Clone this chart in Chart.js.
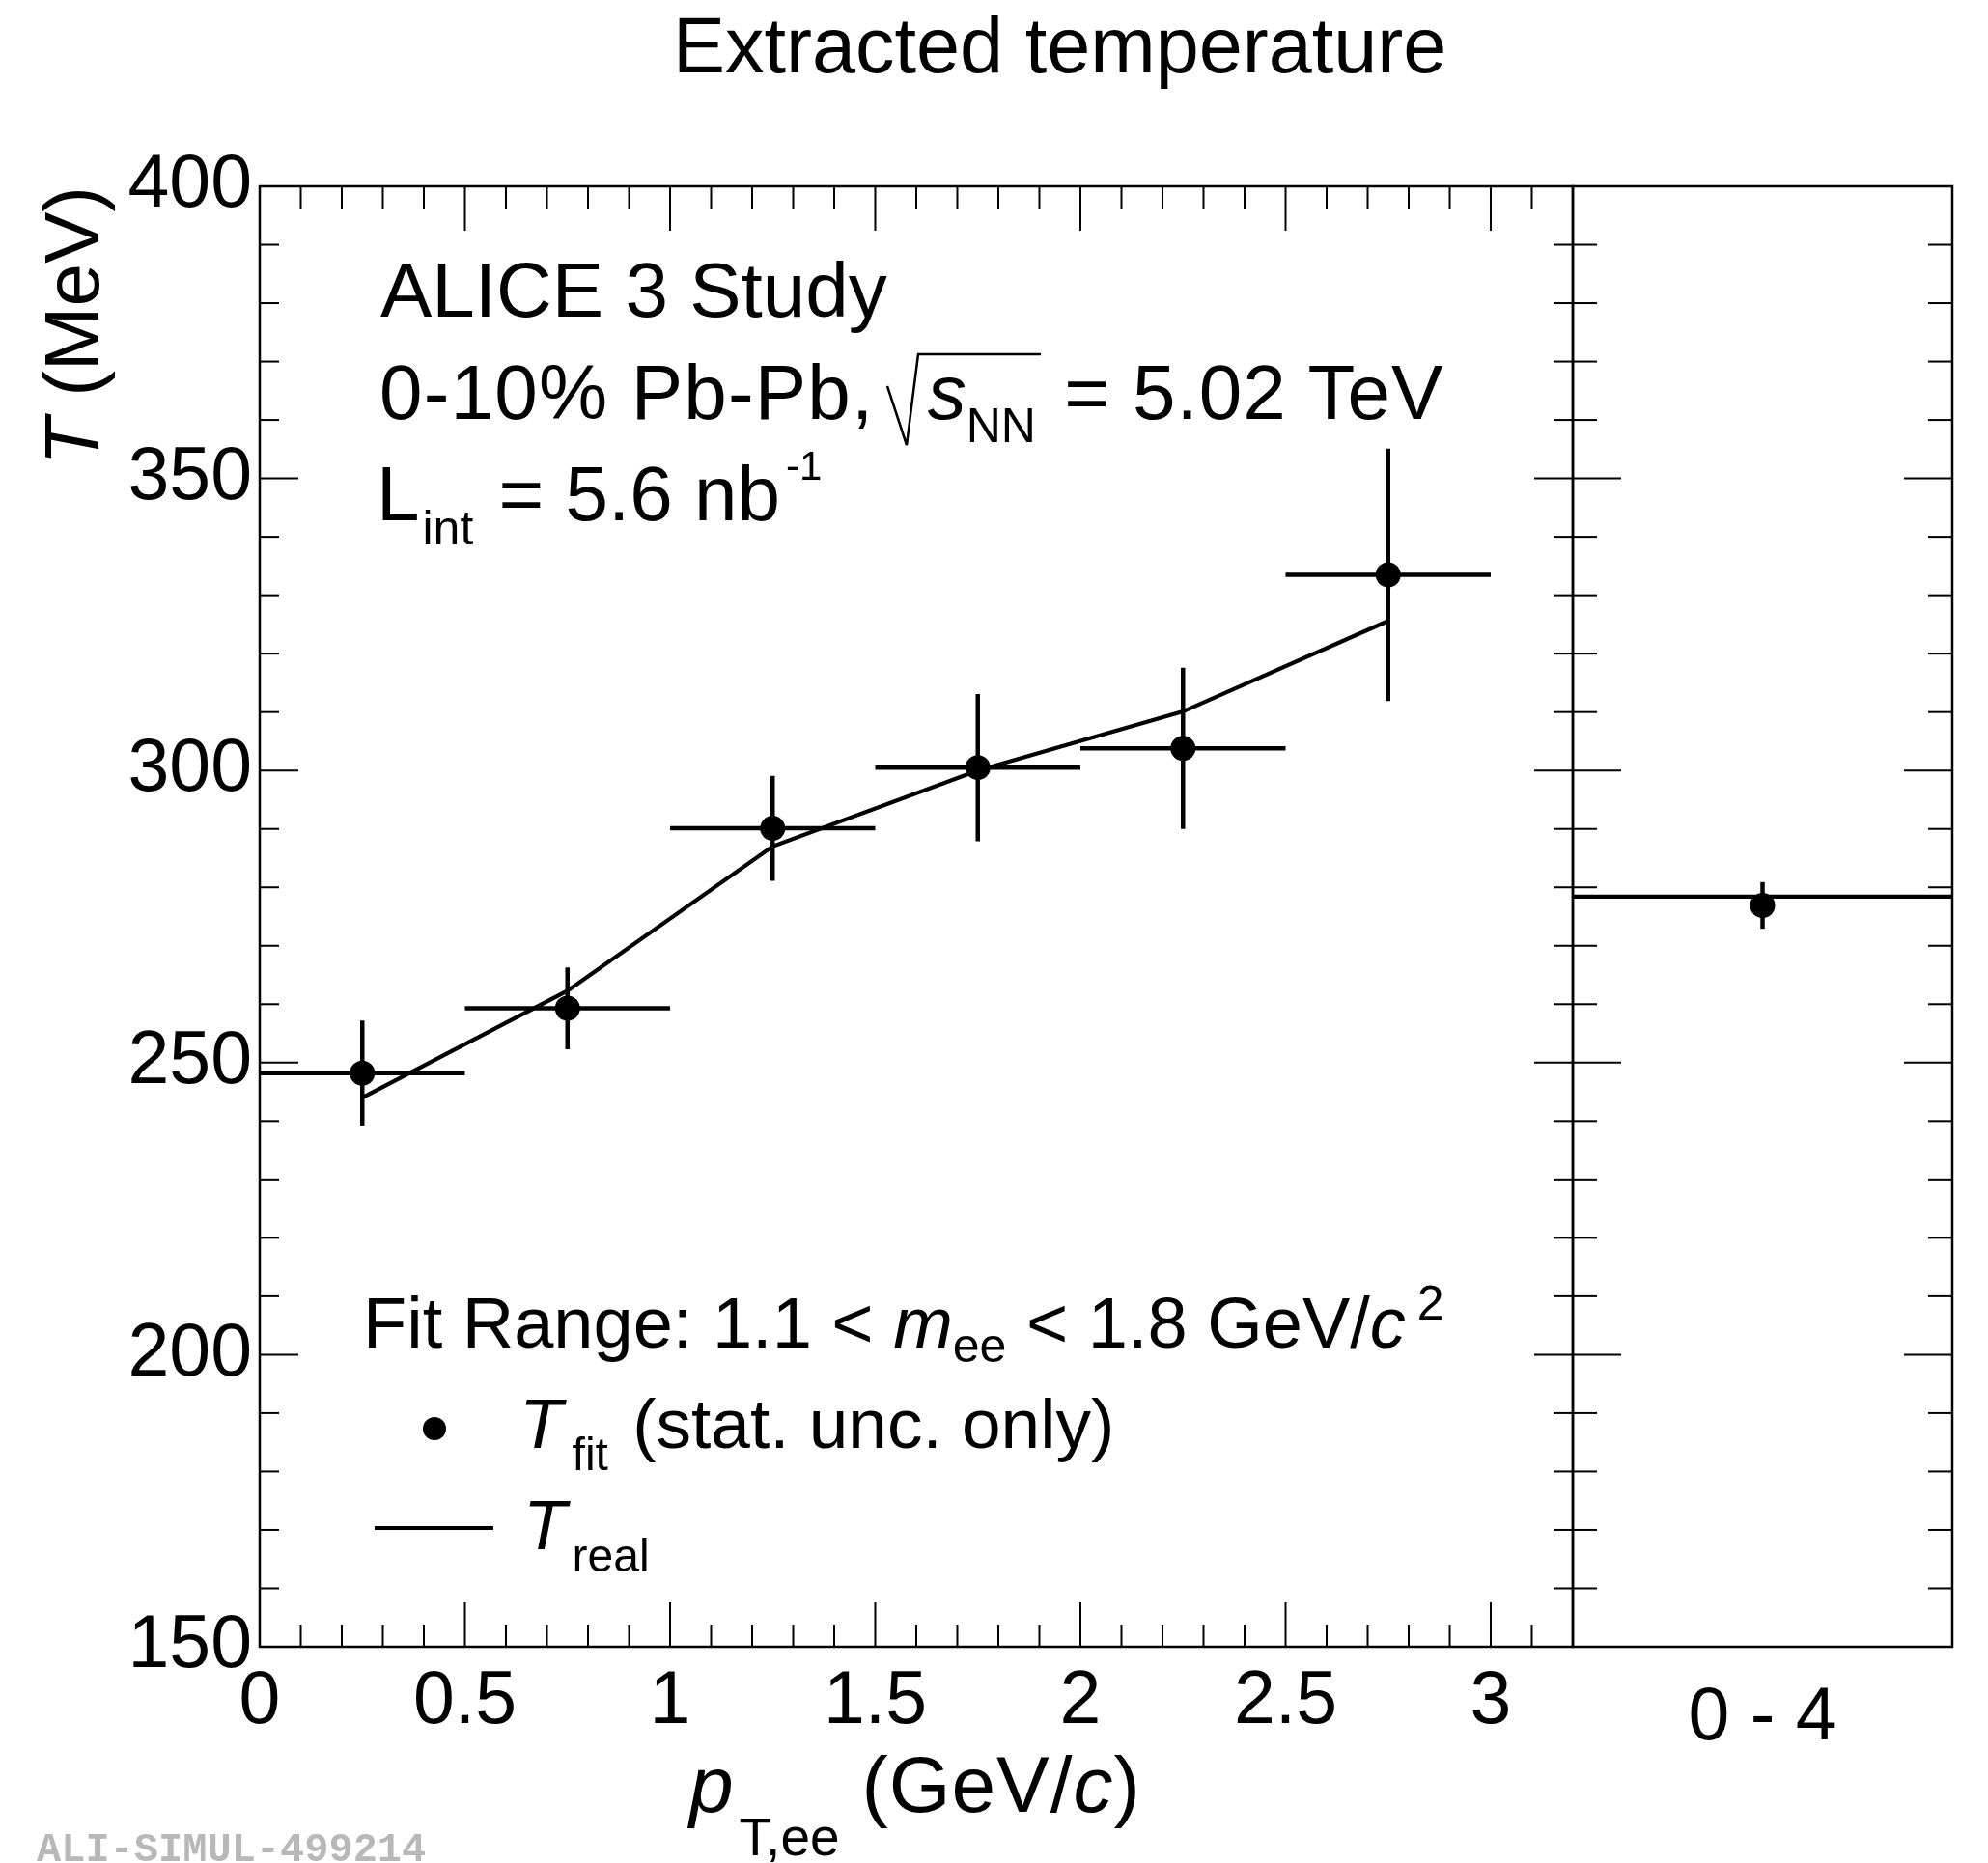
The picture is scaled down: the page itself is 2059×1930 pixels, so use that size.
<!DOCTYPE html>
<html>
<head>
<meta charset="utf-8">
<title>Extracted temperature</title>
<script src="https://cdn.jsdelivr.net/npm/chart.js@4.4.1/dist/chart.umd.min.js"></script>
<style>
  html, body { margin:0; padding:0; background:#fff; }
  #stage { position:relative; width:2059px; height:1930px; overflow:hidden; background:#fff;
           font-family:"Liberation Sans", Arial, Helvetica, sans-serif; color:#000; }
  #stage canvas { position:absolute; left:0; top:0; }
  .txt { position:absolute; white-space:nowrap; line-height:1; }
  .f80 { font-size:80px; }
  .f74 { font-size:74px; }
  .it { font-style:italic; }
  .ss { position:relative; font-size:50px; }
  .ss48 { position:relative; font-size:48px; }
  .mark { position:absolute; background:#000; }
  .wm { position:absolute; white-space:nowrap; line-height:1; font-family:"Liberation Mono","Courier New",monospace;
        font-weight:bold; font-size:42px; color:#b8b8b8; }
</style>
</head>
<body>
<div id="stage">
  <canvas id="mainChart" width="2059" height="1930"></canvas>
  <canvas id="intChart" width="2059" height="1930"></canvas>

  <div class="txt" style="font-size:81px; left:697px; top:7px;">Extracted temperature</div>

  <div class="txt f80" style="left:35px; top:593px; width:400px; text-align:right; transform-origin:0 0; transform:rotate(-90deg);"><span class="it">T</span> (MeV)</div>

  <div class="txt" style="font-size:82px; left:714px; top:1808px;"><span class="it">p</span><span class="ss" style="font-size:55px; top:45px; margin-left:6px;">T,ee</span> <span style="letter-spacing:1px;">(GeV/<span class="it">c</span>)</span></div>

  <div class="txt f80" style="left:394px; top:261px;">ALICE 3 Study</div>
  <div class="txt f80" style="left:393px; top:367px;"><span style="letter-spacing:1.2px;">0-10% Pb-Pb,</span> <span style="display:inline-block; width:33px;"></span><span class="it">s</span><span class="ss" style="top:24px;">NN</span><span style="letter-spacing:1px; margin-left:6px;"> = 5.02 TeV</span></div>
  <svg style="position:absolute; left:0; top:0;" width="2059" height="600">
    <polyline points="919,400 939,461 951,367 1078,367" fill="none" stroke="#000" stroke-width="2.5" stroke-linejoin="miter"/>
  </svg>
  <div class="txt f80" style="left:390px; top:472px;">L<span class="ss" style="top:25px; margin-left:3px;">int</span><span style="margin-left:4px;"> = 5.6 nb</span><span class="ss" style="font-size:42px; top:-42px; margin-left:6px;">-1</span></div>

  <div class="txt f74" style="left:376px; top:1334px;">Fit Range: 1.1 &lt; <span class="it">m</span><span class="ss" style="top:15px;">ee</span> &lt; 1.8 GeV/<span class="it">c</span><span class="ss" style="top:-29px; margin-left:12px;">2</span></div>

  <div class="mark" style="left:438px; top:1468px; width:24px; height:24px; border-radius:50%;"></div>
  <div class="txt" style="font-size:73px; left:538px; top:1438px;"><span class="it">T</span><span class="ss48" style="top:23px; margin-left:10px;">fit</span><span style="margin-left:5px;"> (stat. unc. only)</span></div>

  <div class="mark" style="left:388px; top:1581px; width:123px; height:4px;"></div>
  <div class="txt" style="font-size:73px; left:542px; top:1543px;"><span class="it">T</span><span class="ss48" style="top:23px; margin-left:6px;">real</span></div>

  <div class="wm" style="left:38px; top:1896px;">ALI-SIMUL-499214</div>
</div>

<script>
// ---------------- data ----------------
const binEdges   = [0, 0.5, 1.0, 1.5, 2.0, 2.5, 3.0];          // p_T,ee bins (GeV/c)
const tFit       = [248.2, 259.3, 290.1, 300.5, 303.8, 333.5];  // T_fit (MeV)
const tFitErr    = [9.0, 7.0, 9.0, 12.6, 13.8, 21.6];           // stat. unc. (MeV)
const tReal      = [244.0, 262.3, 287.0, 300.0, 310.1, 325.6];  // T_real (MeV)

const intRange   = [0, 4];          // integrated p_T,ee range (GeV/c)
const intLabel   = ['0 - 4'];
const intTFit    = [276.9];
const intTFitErr = [4.0];
const intTReal   = [278.4];

const xTickLabels = [0, 0.5, 1, 1.5, 2, 2.5, 3];
const yTickLabels = [150, 200, 250, 300, 350, 400];

// ---------------- derived ----------------
const binCenters = tFit.map((_, i) => (binEdges[i] + binEdges[i + 1]) / 2);

function errorSegments(xc, lo, hi, ys, errs) {
  const pts = [];
  xc.forEach((x, i) => {
    pts.push({ x: x, y: ys[i] - errs[i] }, { x: x, y: ys[i] + errs[i] }, { x: x, y: null });
    if (lo && hi) pts.push({ x: lo[i], y: ys[i] }, { x: hi[i], y: ys[i] }, { x: x, y: null });
  });
  return pts;
}

const FONT = "'Liberation Sans', Arial, Helvetica, sans-serif";

const frameTicks = {
  id: 'frameTicks',
  afterDatasetsDraw(chart, args, o) {
    const { ctx, chartArea: a } = chart;
    const xs = chart.scales.x, ys = chart.scales.y;
    ctx.save();
    ctx.strokeStyle = '#000';
    ctx.lineCap = 'butt';
    ctx.lineWidth = o.tickWidth;
    const draw = (scale, minor, perMajor, sides) => {
      const n = Math.round((scale.max - scale.min) / minor);
      for (let i = 1; i < n; i++) {
        const p = scale.getPixelForValue(scale.min + i * minor);
        const major = i % perMajor === 0;
        sides.forEach(s => {
          const len = major ? s.len[0] : s.len[1];
          ctx.beginPath();
          if (s.side === 'left')   { ctx.moveTo(a.left, p);   ctx.lineTo(a.left + len, p); }
          if (s.side === 'right')  { ctx.moveTo(a.right, p);  ctx.lineTo(a.right - len, p); }
          if (s.side === 'bottom') { ctx.moveTo(p, a.bottom); ctx.lineTo(p, a.bottom - len); }
          if (s.side === 'top')    { ctx.moveTo(p, a.top);    ctx.lineTo(p, a.top + len); }
          ctx.stroke();
        });
      }
    };
    if (o.x) draw(xs, o.x.minor, o.x.perMajor, o.x.sides);
    if (o.y) draw(ys, o.y.minor, o.y.perMajor, o.y.sides);
    ctx.lineWidth = o.frameWidth;
    ctx.strokeRect(a.left, a.top, a.right - a.left, a.bottom - a.top);
    ctx.restore();
  }
};

// ---------------- main panel ----------------
new Chart(document.getElementById('mainChart'), {
  type: 'scatter',
  data: {
    datasets: [
      {
        label: 'T_fit',
        data: binCenters.map((x, i) => ({ x: x, y: tFit[i] })),
        showLine: false,
        pointRadius: 13,
        pointBackgroundColor: '#000',
        pointBorderWidth: 0
      },
      {
        label: 'T_fit errors',
        data: errorSegments(binCenters, binEdges.slice(0, -1), binEdges.slice(1), tFit, tFitErr),
        showLine: true,
        spanGaps: false,
        borderColor: '#000',
        borderWidth: 4.5,
        pointRadius: 0
      },
      {
        label: 'T_real',
        data: binCenters.map((x, i) => ({ x: x, y: tReal[i] })),
        showLine: true,
        borderColor: '#000',
        borderWidth: 4.2,
        pointRadius: 0,
        tension: 0
      }
    ]
  },
  options: {
    responsive: false,
    animation: false,
    devicePixelRatio: 1,
    layout: { padding: { left: 0, right: 430, top: 193, bottom: 0 } },
    plugins: {
      legend: { display: false },
      tooltip: { enabled: false },
      frameTicks: {
        tickWidth: 2, frameWidth: 2.5,
        x: { minor: 0.1, perMajor: 5, sides: [{ side: 'bottom', len: [46, 23] }, { side: 'top', len: [46, 23] }] },
        y: { minor: 10, perMajor: 5, sides: [{ side: 'left', len: [40, 20] }, { side: 'right', len: [40, 20] }] }
      }
    },
    scales: {
      x: {
        type: 'linear', min: 0, max: 3.2,
        afterBuildTicks: s => { s.ticks = xTickLabels.map(v => ({ value: v })); },
        afterFit: s => { s.height = 224; },
        grid: { display: false, drawTicks: false },
        border: { display: false },
        ticks: { autoSkip: false, maxRotation: 0, padding: 12, color: '#000',
                 font: { family: FONT, size: 77 }, callback: v => String(v) }
      },
      y: {
        type: 'linear', min: 150, max: 400,
        afterBuildTicks: s => { s.ticks = yTickLabels.map(v => ({ value: v })); },
        afterFit: s => { s.width = 269; },
        grid: { display: false, drawTicks: false },
        border: { display: false },
        ticks: { padding: 8, color: '#000', font: { family: FONT, size: 77 }, callback: v => String(v) }
      }
    }
  },
  plugins: [frameTicks]
});

// ---------------- integrated panel ----------------
const intCenter = (intRange[0] + intRange[1]) / 2;
new Chart(document.getElementById('intChart'), {
  type: 'scatter',
  data: {
    datasets: [
      {
        label: 'T_fit (0-4)',
        data: [{ x: intCenter, y: intTFit[0] }],
        showLine: false,
        pointRadius: 13,
        pointBackgroundColor: '#000',
        pointBorderWidth: 0
      },
      {
        label: 'T_fit (0-4) errors',
        data: errorSegments([intCenter], null, null, intTFit, intTFitErr),
        showLine: true,
        spanGaps: false,
        borderColor: '#000',
        borderWidth: 4.5,
        pointRadius: 0
      },
      {
        label: 'T_real (0-4)',
        data: [{ x: intRange[0], y: intTReal[0] }, { x: intRange[1], y: intTReal[0] }],
        showLine: true,
        borderColor: '#000',
        borderWidth: 4.2,
        pointRadius: 0
      }
    ]
  },
  options: {
    responsive: false,
    animation: false,
    devicePixelRatio: 1,
    layout: { padding: { left: 1629, right: 37, top: 193, bottom: 0 } },
    plugins: {
      legend: { display: false },
      tooltip: { enabled: false },
      frameTicks: {
        tickWidth: 2, frameWidth: 2.5,
        y: { minor: 10, perMajor: 5, sides: [{ side: 'left', len: [50, 25] }, { side: 'right', len: [50, 25] }] }
      }
    },
    scales: {
      x: {
        type: 'linear', min: intRange[0], max: intRange[1],
        afterBuildTicks: s => { s.ticks = [{ value: intCenter }]; },
        afterFit: s => { s.height = 224; },
        grid: { display: false, drawTicks: false },
        border: { display: false },
        ticks: { autoSkip: false, maxRotation: 0, padding: 29, color: '#000',
                 font: { family: FONT, size: 77 }, callback: () => intLabel[0] }
      },
      y: {
        type: 'linear', min: 150, max: 400,
        afterBuildTicks: s => { s.ticks = yTickLabels.map(v => ({ value: v })); },
        afterFit: s => { s.width = 0; },
        grid: { display: false, drawTicks: false },
        border: { display: false },
        ticks: { display: false }
      }
    }
  },
  plugins: [frameTicks]
});
</script>
</body>
</html>
